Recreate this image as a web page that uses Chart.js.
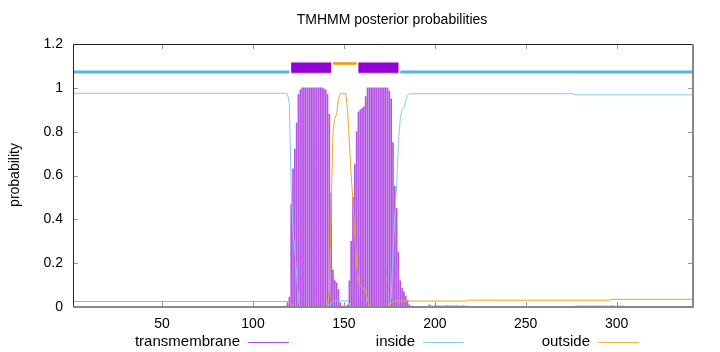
<!DOCTYPE html>
<html>
<head>
<meta charset="utf-8">
<script src="https://cdn.jsdelivr.net/npm/chart.js@4.4.0/dist/chart.umd.min.js"></script>
<style>
  html, body { margin: 0; padding: 0; background: #fff; }
  #wrap { width: 720px; height: 352px; }
</style>
</head>
<body>
<div id="wrap"><canvas id="tmhmm" width="720" height="352"></canvas></div>
<script>
// axis setup
const seqLength = 342;
const xTicks = [50, 100, 150, 200, 250, 300];
const yTicks = [0, 0.2, 0.4, 0.6, 0.8, 1, 1.2];
const legendLabels = ["transmembrane", "inside", "outside"];

// posterior for "inside" (residue, probability)
const insideX = [1, 117, 118, 119, 120, 121, 122, 123, 124, 125, 126, 142, 143, 144, 152, 153, 154, 175, 176, 177, 178, 179, 180, 181, 182, 183, 184, 185, 186, 276, 277, 342];
const insideY = [0.975, 0.975, 0.975, 0.97, 0.93, 0.53, 0.35, 0.26, 0.14, 0.03, 0, 0, 0.02, 0.028, 0.028, 0.015, 0, 0, 0.04, 0.25, 0.42, 0.55, 0.75, 0.86, 0.9, 0.91, 0.94, 0.965, 0.973, 0.973, 0.968, 0.968];

// posterior for "outside"
const outsideX = [1, 119, 120, 121, 122, 123, 141, 142, 143, 144, 145, 146, 147, 148, 151, 152, 153, 154, 155, 156, 157, 158, 159, 160, 161, 162, 163, 164, 165, 174, 175, 176, 177, 178, 217, 218, 296, 297, 342];
const outsideY = [0.025, 0.025, 0.02, 0.012, 0.005, 0, 0, 0.08, 0.45, 0.8, 0.86, 0.88, 0.95, 0.973, 0.973, 0.9, 0.75, 0.6, 0.48, 0.33, 0.2, 0.12, 0.095, 0.088, 0.082, 0.078, 0.03, 0.005, 0, 0, 0.005, 0.015, 0.025, 0.027, 0.027, 0.031, 0.031, 0.035, 0.035];

// posterior for "transmembrane", one value per residue
const tmStart = 117;
const tmValues = [0, 0.005, 0.02, 0.045, 0.47, 0.63, 0.72, 0.84, 0.97, 0.99,
  1, 1, 1, 1, 1, 1, 1, 1, 1, 1, 1, 1,
  0.995, 0.99, 0.97, 0.88, 0.52, 0.17, 0.12, 0.11, 0.08, 0.02, 0.005, 0, 0,
  0.01, 0.12, 0.3, 0.5, 0.65, 0.8, 0.89, 0.9, 0.907, 0.915, 0.96,
  1, 1, 1, 1, 1, 1, 1, 1, 1, 1, 1, 1,
  0.985, 0.95, 0.75, 0.55, 0.45, 0.25, 0.12, 0.085, 0.07, 0.05, 0.03, 0.01, 0];
const tmBlipAStart = 197;
const tmBlipA = [0.01, 0.005, 0.004, 0.005, 0.006, 0.005, 0.005, 0.004, 0.005, 0.005, 0.006,
  0.005, 0.005, 0.004, 0.005, 0.005, 0.005, 0.004, 0.005, 0.005, 0.004, 0.004];
const tmBlipBStart = 277;
const tmBlipB = [0.004, 0.004, 0.005, 0.004, 0.004, 0.005, 0.004, 0.004, 0.005, 0.004,
  0.004, 0.005, 0.004, 0.004, 0.005, 0.004, 0.004, 0.005, 0.004, 0.004,
  0.005, 0.005, 0.004, 0.004, 0.005, 0.004, 0.004, 0.004];

// predicted topology (segments of residues)
const insideSegments = [[1, 120], [181, 342]];
const outsideSegments = [[144, 157]];
const tmSegments = [[121, 143], [158, 180]];
const insideLevel = 1.072;
const outsideLevel = 1.111;
const tmLevel = 1.0915;

const PURPLE = "#9400d3";
const BLUE = "#56b4e9";
const ORANGE = "#e69f00";
const FONT = "'Liberation Sans', Arial, sans-serif";

function pairs(xs, ys) {
  return xs.map((x, i) => ({ x: x, y: ys[i] }));
}
function runs(start, values) {
  return values.map((v, i) => ({ x: start + i, y: v }));
}
function segmentPoints(segments, level) {
  const pts = [];
  segments.forEach((s, i) => {
    if (i > 0) pts.push({ x: (segments[i - 1][1] + s[0]) / 2, y: null });
    pts.push({ x: s[0], y: level }, { x: s[1], y: level });
  });
  return pts;
}

const tmData = runs(tmStart, tmValues).concat(runs(tmBlipAStart, tmBlipA), runs(tmBlipBStart, tmBlipB));

const lineBase = { type: "line", pointRadius: 0, tension: 0, spanGaps: false, borderCapStyle: "butt", fill: false };

// frame, inward ticks, title, axis title and legend drawn like gnuplot
const framePlugin = {
  id: "gnuFrame",
  afterDraw(chart) {
    const { ctx, chartArea: a, scales: { x, y } } = chart;
    ctx.save();
    ctx.strokeStyle = "#999";
    ctx.lineWidth = 1;
    ctx.beginPath();
    xTicks.forEach(v => {
      const px = Math.round(x.getPixelForValue(v)) + 0.5;
      ctx.moveTo(px, a.bottom); ctx.lineTo(px, a.bottom - 5);
      ctx.moveTo(px, a.top); ctx.lineTo(px, a.top + 5);
    });
    yTicks.forEach(v => {
      const py = Math.round(y.getPixelForValue(v)) + 0.5;
      ctx.moveTo(a.left, py); ctx.lineTo(a.left + 5, py);
      ctx.moveTo(a.right, py); ctx.lineTo(a.right - 5, py);
    });
    ctx.stroke();

    ctx.strokeStyle = "#222";
    ctx.beginPath();
    ctx.moveTo(a.left + 0.5, a.bottom);
    ctx.lineTo(a.left + 0.5, a.top + 0.5);
    ctx.lineTo(a.right, a.top + 0.5);
    ctx.stroke();
    ctx.strokeStyle = "#888";
    ctx.lineWidth = 2;
    ctx.beginPath();
    ctx.moveTo(a.left, a.bottom);
    ctx.lineTo(a.right, a.bottom);
    ctx.lineTo(a.right, a.top);
    ctx.stroke();

    ctx.fillStyle = "#000";
    ctx.font = "14px " + FONT;
    ctx.textAlign = "center";
    ctx.textBaseline = "middle";
    ctx.fillText("TMHMM posterior probabilities", 392, 20);

    ctx.save();
    ctx.translate(15, 175);
    ctx.rotate(-Math.PI / 2);
    ctx.fillText("probability", 0, 0);
    ctx.restore();

    const legendColors = ["#b850e4", "#8fcdf0", "#f0b840"];
    const textEnds = [240, 415, 590];
    ctx.textAlign = "right";
    ctx.font = "15px " + FONT;
    legendLabels.forEach((label, i) => {
      ctx.fillStyle = "#000";
      ctx.fillText(label, textEnds[i], 342);
      ctx.strokeStyle = legendColors[i];
      ctx.lineWidth = 1;
      ctx.beginPath();
      ctx.moveTo(textEnds[i] + 8, 342.5);
      ctx.lineTo(textEnds[i] + 49, 342.5);
      ctx.stroke();
    });
    ctx.restore();
  }
};

const ctx = document.querySelector("#tmhmm").getContext("2d");
const chart = new Chart(ctx, {
  type: "bar",
  data: {
    datasets: [
      Object.assign({}, lineBase, { label: "tm-edge", data: segmentPoints(tmSegments, tmLevel), borderColor: "#dcaaf2", borderWidth: 12, order: 1 }),
      Object.assign({}, lineBase, { label: "tm-box", data: segmentPoints(tmSegments, tmLevel), borderColor: PURPLE, borderWidth: 10, order: 0 }),
      Object.assign({}, lineBase, { label: "inside-topo", data: segmentPoints(insideSegments, insideLevel), borderColor: BLUE, borderWidth: 3, order: 2 }),
      Object.assign({}, lineBase, { label: "outside-topo", data: segmentPoints(outsideSegments, outsideLevel), borderColor: ORANGE, borderWidth: 2.5, order: 2 }),
      Object.assign({}, lineBase, { label: "outside", data: pairs(outsideX, outsideY), borderColor: "#eaa826", borderWidth: 1, order: 3 }),
      Object.assign({}, lineBase, { label: "inside", data: pairs(insideX, insideY), borderColor: "#86c8ee", borderWidth: 1, order: 4 }),
      {
        type: "bar", label: "transmembrane", data: tmData,
        backgroundColor: "#b454e2", borderWidth: 0, barThickness: 1, grouped: false, order: 5
      }
    ]
  },
  options: {
    responsive: false,
    animation: false,
    devicePixelRatio: 1,
    layout: { padding: { top: 44, right: 27, left: 0, bottom: 0 } },
    plugins: { legend: { display: false }, tooltip: { enabled: false }, title: { display: false } },
    scales: {
      x: {
        type: "linear", min: 1, max: seqLength, offset: false,
        grid: { display: false, drawTicks: false }, border: { display: false },
        ticks: { color: "#000", font: { family: FONT, size: 14 }, padding: 9, maxRotation: 0 },
        afterBuildTicks: s => { s.ticks = xTicks.map(v => ({ value: v })); },
        afterFit: s => { s.height = 45; }
      },
      y: {
        min: 0, max: 1.2,
        grid: { display: false, drawTicks: false }, border: { display: false },
        ticks: { color: "#000", font: { family: FONT, size: 14 }, padding: 10, callback: v => String(+v.toFixed(1)) },
        afterBuildTicks: s => { s.ticks = yTicks.map(v => ({ value: v })); },
        afterFit: s => { s.width = 73; }
      }
    }
  },
  plugins: [framePlugin]
});
</script>
</body>
</html>
